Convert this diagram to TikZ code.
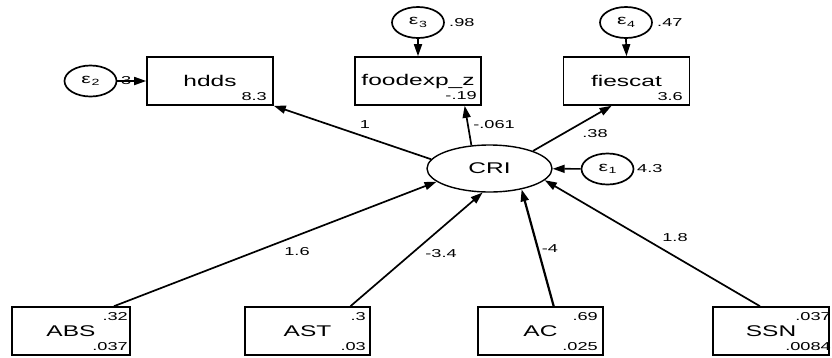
\documentclass[tikz,border=0pt]{standalone}
\usepackage{fontspec}
\setmainfont{Liberation Sans}[FakeStretch=1.58]
\usetikzlibrary{arrows.meta,shapes.geometric}

% epsilon with a lowered index
\newcommand\errlab[1]{ε\kern0.6pt\raisebox{-2.5pt}{\fontsize{9}{9}\selectfont #1}}

\begin{document}
\begin{tikzpicture}[x=1pt,y=-1pt,
  obs/.style={draw, rectangle, line width=1.6pt, minimum width=126pt,
    minimum height=48pt, inner sep=0pt, font=\fontsize{15.5}{18}\selectfont},
  lat/.style={draw, ellipse, line width=1.4pt, minimum width=125pt,
    minimum height=47pt, inner sep=0pt, font=\fontsize{15.5}{18}\selectfont},
  err/.style={draw, ellipse, line width=1.7pt, minimum width=52pt,
    minimum height=31pt, inner sep=0pt, font=\fontsize{13.5}{15}\selectfont},
  num/.style={inner sep=0pt, font=\fontsize{11.5}{13}\selectfont},
  link/.style={line width=1.7pt, -{Triangle[length=12pt,width=8pt]}},
]
\useasboundingbox (0,0) rectangle (832,357);

% measured outcomes
\node[obs] (hdds) at (210,81) {hdds};
\node[obs] (food) at (418,81) {foodexp\_z};
\node[obs] (fies) at (626.5,81) {fiescat};
\node[num, anchor=base east] (hddsc) at (267,100) {8.3};
\node[num, anchor=base east] (foodc) at (477,99) {-.19};
\node[num, anchor=base east] (fiesc) at (683,100) {3.6};

% latent construct
\node[lat] (CRI) at (489.5,168.5) {CRI};

% error terms
\node[err] (e1) at (607.5,169) {\errlab{1}};
\node[err] (e2) at (90.5,81) {\errlab{2}};
\node[err] (e3) at (418,22.5) {\errlab{3}};
\node[err] (e4) at (626,22.5) {\errlab{4}};
\node[num, anchor=west] (e1v) at (637,169) {4.3};
\node[num, anchor=west] (e2v) at (121,81) {3};
\node[num, anchor=west] (e3v) at (449,22.5) {.98};
\node[num, anchor=west] (e4v) at (657,22.5) {.47};

% exogenous predictors
\node[obs, minimum width=118pt] (ABS) at (71,331) {ABS};
\node[obs, minimum width=125pt] (AST) at (307.5,331) {AST};
\node[obs, minimum width=125pt] (AC) at (540.5,331) {AC};
\node[obs, minimum width=116pt] (SSN) at (771,331) {SSN};
\node[num, anchor=base east] (ABSm) at (128,320) {.32};
\node[num, anchor=base east] (ABSv) at (128,350) {.037};
\node[num, anchor=base east] (ASTm) at (366,320) {.3};
\node[num, anchor=base east] (ASTv) at (366,350) {.03};
\node[num, anchor=base east] (ACm) at (598,320) {.69};
\node[num, anchor=base east] (ACv) at (598,350) {.025};
\node[num, anchor=base east] (SSNm) at (831,320) {.037};
\node[num, anchor=base east] (SSNv) at (831,350) {.0084};

% loadings
\draw[link] (CRI.171) -- (hdds.south east);
\draw[link] (CRI.128) -- (food.-28.6);
\draw[link] (CRI.22) -- (fies.-121);
\node[num] (l1) at (365,125) {1};
\node[num] (l2) at (494,125) {-.061};
\node[num] (l3) at (595,134) {.38};

% error paths
\draw[link] (e1) -- (CRI);
\draw[link] (e2) -- (hdds);
\draw[link] (e3) -- (food);
\draw[link] (e4.south) -- (fies.north);

% structural paths
\draw[link] (ABS.30) -- (CRI.194);
\draw[link] (AST.30.6) -- (CRI.254.5);
\draw[link, line width=2.2pt] (AC.62.5) -- (CRI.-33);
\draw[link] (SSN.114.6) -- (CRI.-12);
\node[num] (p1) at (297,252) {1.6};
\node[num] (p2) at (441,254) {-3.4};
\node[num] (p3) at (550,249) {-4};
\node[num] (p4) at (675,238) {1.8};
\end{tikzpicture}
\end{document}
